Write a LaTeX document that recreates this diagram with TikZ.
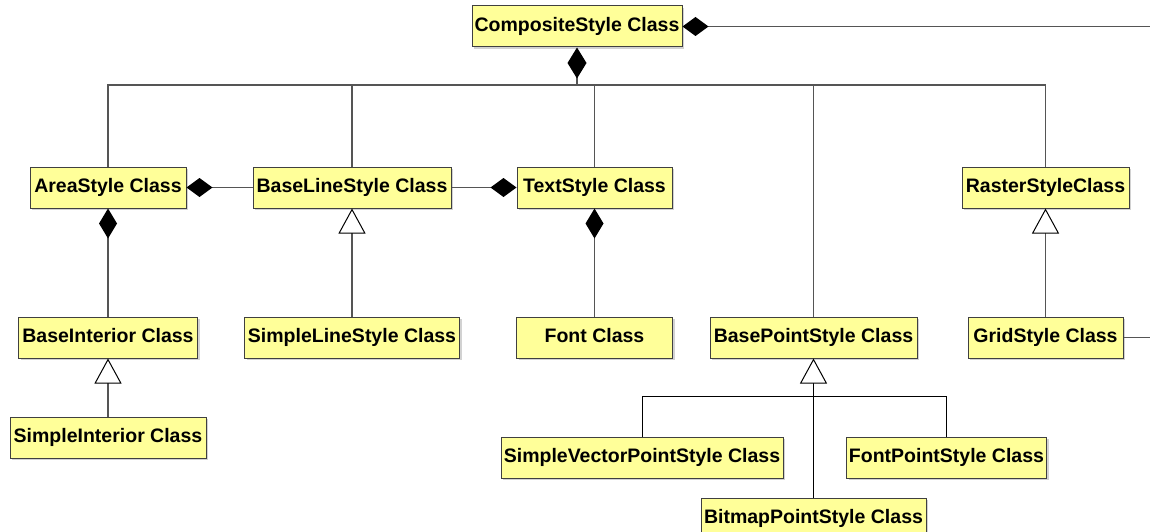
\documentclass[tikz,border=0pt]{standalone}
\usepackage{fontspec}
\setmainfont{Liberation Sans}
\usepackage{xcolor}
\usepackage{tikz}
\usetikzlibrary{arrows.meta,positioning,shadows}
\definecolor{cyellow}{HTML}{FFFF99}
\definecolor{cedge}{HTML}{404040}
\definecolor{cline}{HTML}{555555}

\begin{document}
\begin{tikzpicture}[x=1pt,y=-1pt,
    every node/.style={font=\fontsize{19.5}{21}\selectfont\bfseries},
    cls/.style={draw=cedge,line width=1pt,fill=cyellow,minimum height=41pt,
      inner sep=0pt,text height=14pt,text depth=4pt,
      drop shadow={shadow xshift=2pt,shadow yshift=-2pt,fill=black!35}},
    link/.style={draw=cline,line width=1.4pt},
    agg/.style={link,{Diamond[length=30pt,width=18pt,color=black]}-},
    aggh/.style={link,{Diamond[length=26pt,width=19pt,color=black]}-},
    gen/.style={link,-{Triangle[open,fill=white,color=black,line width=1pt,length=25pt,width=27pt]}}]
  \useasboundingbox (0,0) rectangle (1150,532);

  \node[cls,minimum width=210pt] (comp) at (577,26.5) {CompositeStyle Class};
  \node[cls,minimum width=156pt] (area) at (108,187.5) {AreaStyle Class};
  \node[cls,minimum width=198pt] (baseline) at (352,187.5) {BaseLineStyle Class};
  \node[cls,minimum width=155pt] (text) at (594.5,187.5) {TextStyle Class};
  \node[cls,minimum width=167pt] (raster) at (1045.5,187.5) {RasterStyleClass};
  \node[cls,minimum width=179pt] (baseint) at (108,337.5) {BaseInterior Class};
  \node[cls,minimum width=215pt] (simpleline) at (352,337.5) {SimpleLineStyle Class};
  \node[cls,minimum width=156pt] (font) at (594.5,337.5) {Font Class};
  \node[cls,minimum width=207pt] (basepoint) at (813.5,337.5) {BasePointStyle Class};
  \node[cls,minimum width=155pt] (grid) at (1045.5,337.5) {GridStyle Class};
  \node[cls,minimum width=196pt] (simpleint) at (108,437.5) {SimpleInterior Class};
  \node[cls,minimum width=282pt] (svps) at (642,457.5) {SimpleVectorPointStyle Class};
  \node[cls,minimum width=200pt] (fps) at (946.5,457.5) {FontPointStyle Class};
  \node[cls,minimum width=225pt] (bps) at (813.5,518.5) {BitmapPointStyle Class};

  \coordinate (bus) at (577,85);
  \coordinate (split) at (813.5,396.5);
  \coordinate (outtop) at (1160,26.5);
  \coordinate (outgrid) at (1160,337.5);

  \draw[link] (area.north) |- (bus) -| (raster.north);
  \draw[link,{Diamond[length=31pt,width=19pt,color=black]}-] (comp.south) -- (bus);
  \draw[link] (baseline.north) -- (baseline.north |- bus);
  \draw[link] (text.north) -- (text.north |- bus);
  \draw[link] (basepoint.north) -- (basepoint.north |- bus);
  \draw[aggh] (comp.east) -- (comp.east -| outtop);

  \draw[aggh] (area.east) -- (baseline.west);
  \draw[aggh] (text.west) -- (baseline.east);
  \draw[agg] (area.south) -- (baseint.north);
  \draw[agg] (text.south) -- (font.north);
  \draw[gen] (simpleline.north) -- (baseline.south);
  \draw[gen] (grid.north) -- (raster.south);
  \draw[gen] (simpleint.north) -- (baseint.south);
  \draw[link] (grid.east) -- (grid.east -| outgrid);

  \draw[gen,draw=black,line width=1pt] (bps.north) -- (basepoint.south);
  \draw[link,draw=black,line width=1pt] (svps.north) |- (split) -| (fps.north);
\end{tikzpicture}
\end{document}
